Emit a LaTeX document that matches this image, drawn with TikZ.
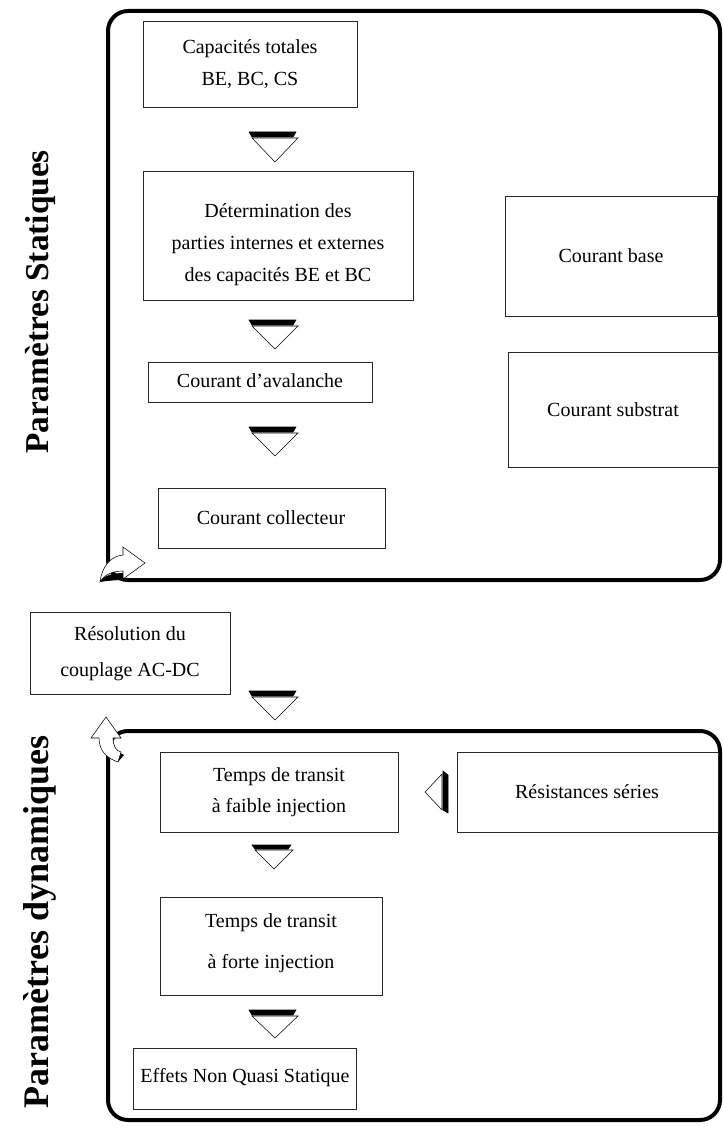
\documentclass[tikz,border=0pt]{standalone}
\usepackage{fontspec}
\setmainfont{Liberation Serif}
\usepackage{tikz}

\begin{document}
\begin{tikzpicture}[x=0.75pt,y=0.75pt,yscale=-1,xscale=1,
  boite/.style={draw={rgb, 255:red, 40; green, 40; blue, 40}, line width=0.75},
  texte/.style={align=center, inner sep=0.75pt, font=\fontsize{15}{24}\selectfont},
  cadre/.style={draw, line width=3, rounded corners=15pt},
  titre/.style={rotate=90, inner sep=0.75pt, font=\fontsize{25}{30}\selectfont\bfseries}]
\path (0,0) rectangle (723,1127); %set diagram size

%Shape: Rounded Rect [id:statique]
\draw [cadre] (108,11) rectangle (720,580) ;
%Shape: Rounded Rect [id:dynamique]
\draw [cadre] (108,731) rectangle (720,1120) ;

%Shape: Rectangle [id:capa]
\draw [boite] (143,22) rectangle (357,108) ;
%Shape: Rectangle [id:determ]
\draw [boite] (143,172) rectangle (413,300) ;
%Shape: Rectangle [id:aval]
\draw [boite] (148,362) rectangle (372,402) ;
%Shape: Rectangle [id:collect]
\draw [boite] (158,488) rectangle (385,548) ;
%Shape: Rectangle [id:base]
\draw [boite] (505,196) rectangle (717,316) ;
%Shape: Rectangle [id:substrat]
\draw [boite] (508,352) rectangle (718,467) ;
%Shape: Rectangle [id:couplage]
\draw [boite] (30,612) rectangle (230,694) ;
%Shape: Rectangle [id:faible]
\draw [boite] (160,752) rectangle (398,832) ;
%Shape: Rectangle [id:series]
\draw [boite] (457,752) rectangle (718,832) ;
%Shape: Rectangle [id:forte]
\draw [boite] (160,897) rectangle (382,995) ;
%Shape: Rectangle [id:nqs]
\draw [boite] (133,1048) rectangle (356,1109) ;

%Shape: Down Arrow [id:fl1]
\draw [fill=black] (249,132) -- (296,132) -- (293,137) -- (252,137) -- cycle ;
\draw [fill=white] (252,138) -- (298,138) -- (275,162) -- cycle ;
%Shape: Down Arrow [id:fl2]
\draw [fill=black] (249,320) -- (296,320) -- (293,325) -- (252,325) -- cycle ;
\draw [fill=white] (252,326) -- (298,326) -- (275,349) -- cycle ;
%Shape: Down Arrow [id:fl3]
\draw [fill=black] (249,427) -- (296,427) -- (293,432) -- (252,432) -- cycle ;
\draw [fill=white] (252,433) -- (298,433) -- (275,456) -- cycle ;
%Shape: Down Arrow [id:fl4]
\draw [fill=black] (249,691) -- (296,691) -- (293,696) -- (252,696) -- cycle ;
\draw [fill=white] (252,697) -- (298,697) -- (275,720) -- cycle ;
%Shape: Down Arrow [id:fl5]
\draw [fill=black] (252,845) -- (291,845) -- (288,849) -- (255,849) -- cycle ;
\draw [fill=white] (255,850) -- (293,850) -- (274,869) -- cycle ;
%Shape: Down Arrow [id:fl6]
\draw [fill=black] (249,1010) -- (296,1010) -- (293,1015) -- (252,1015) -- cycle ;
\draw [fill=white] (252,1016) -- (298,1016) -- (275,1038) -- cycle ;
%Shape: Left Arrow [id:fl7]
\draw [fill=black] (443,771) -- (448,775) -- (448,813) -- (443,810) -- cycle ;
\draw [fill=white] (442,774) -- (442,810) -- (425,792) -- cycle ;

%Shape: Curved Arrow [id:courbe1]
\fill [black] (100,582) .. controls (104,575) and (113,573) .. (125,573) -- (125,580) .. controls (115,580) and (106,581) .. (100,582) -- cycle ;
\draw [fill=white] (100,582) .. controls (102,566) and (111,556) .. (123,555) -- (123,547) -- (145,563) -- (123,579) -- (123,571) .. controls (112,571) and (104,575) .. (100,582) -- cycle ;
%Shape: Curved Arrow [id:courbe2]
\fill [black] (113,738) .. controls (113,747) and (118,753) .. (124,755) -- (118,762) .. controls (116,755) and (114,748) .. (113,738) -- cycle ;
\draw [fill=white] (99,738) -- (91,738) -- (106,717) -- (121,738) -- (113,738) .. controls (113,746) and (116,751) .. (121,752) -- (118,762) .. controls (106,758) and (99,750) .. (99,738) -- cycle ;

% Text Node
\node [texte] (capa) at (250,64) {Capacités totales\\BE, BC, CS};
% Text Node
\node [texte] (determ) at (278,245) {Détermination des\\parties internes et externes\\des capacités BE et BC};
% Text Node
\node [texte] (aval) at (260,381) {Courant d’avalanche};
% Text Node
\node [texte] (collect) at (271,518) {Courant collecteur};
% Text Node
\node [texte] (base) at (611,256) {Courant base};
% Text Node
\node [texte] (substrat) at (613,410) {Courant substrat};
% Text Node
\node [texte] (couplage) at (130,654) {Résolution du\\[3pt]couplage AC-DC};
% Text Node
\node [texte] (faible) at (279,792) {Temps de transit\\[-1pt]à faible injection};
% Text Node
\node [texte] (series) at (587,792) {Résistances séries};
% Text Node
\node [texte] (forte) at (271,943) {Temps de transit\\[7pt]à forte injection};
% Text Node
\node [texte] (nqs) at (245,1078) {Effets Non Quasi Statique};
% Text Node
\node [titre] (statique) at (40,302) {Paramètres Statiques};
% Text Node
\node [titre, font=\fontsize{27}{30}\selectfont\bfseries] (dynamique) at (40,922) {Paramètres dynamiques};

\end{tikzpicture}
\end{document}
